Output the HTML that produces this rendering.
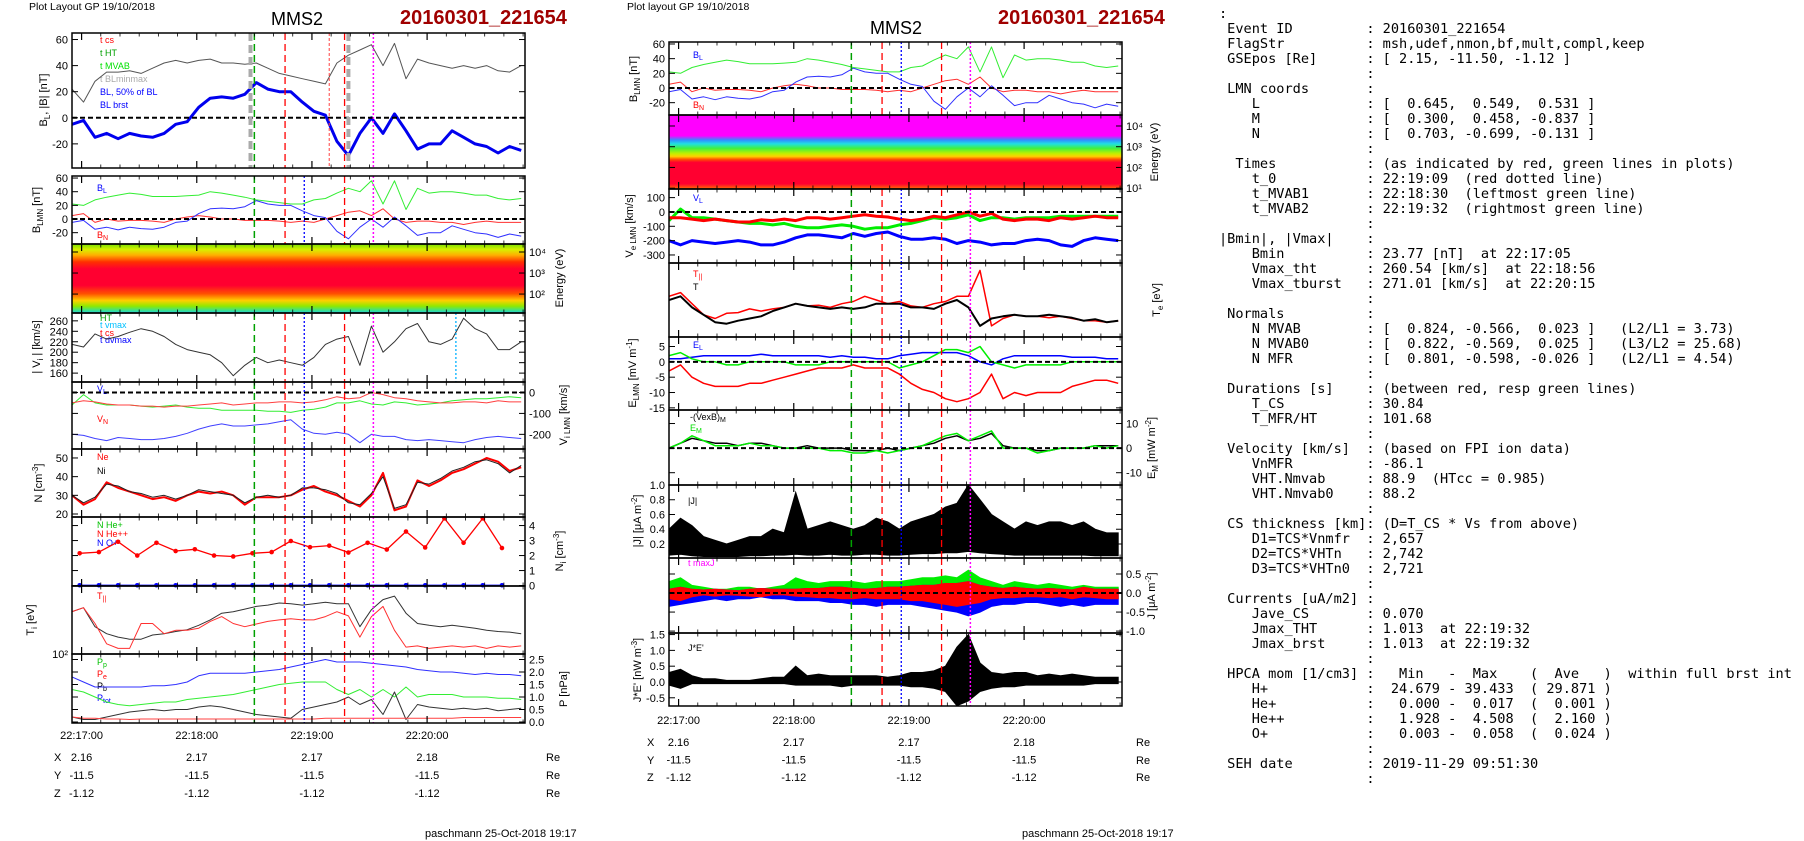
<!DOCTYPE html>
<html><head><meta charset="utf-8"><title>MMS2 20160301_221654</title>
<style>
html,body{margin:0;padding:0;background:#fff;}
body{width:1804px;height:841px;position:relative;overflow:hidden;font-family:"Liberation Sans",Arial,sans-serif;}
#chart{position:absolute;left:0;top:0;}
#info{position:absolute;left:1219px;top:7px;margin:0;font-family:"DejaVu Sans Mono","Liberation Mono",monospace;font-size:13.6px;line-height:15px;color:#000;white-space:pre;}
svg text{font-family:"Liberation Sans",Arial,sans-serif;}
</style></head>
<body>
<svg id="chart" width="1804" height="841" viewBox="0 0 1804 841">
<defs>
<linearGradient id="specL" x1="0" y1="0" x2="0" y2="1">
<stop offset="0" stop-color="#78e000"/><stop offset="0.08" stop-color="#d8f000"/><stop offset="0.16" stop-color="#ffb000"/><stop offset="0.26" stop-color="#ff3000"/><stop offset="0.36" stop-color="#ff0030"/><stop offset="0.6" stop-color="#ff0030"/><stop offset="0.72" stop-color="#ff5000"/><stop offset="0.82" stop-color="#ffd000"/><stop offset="0.9" stop-color="#90e800"/><stop offset="0.97" stop-color="#30e0a0"/><stop offset="1" stop-color="#30c0e0"/>
</linearGradient>
<linearGradient id="specM" x1="0" y1="0" x2="0" y2="1">
<stop offset="0" stop-color="#ff00ff"/><stop offset="0.28" stop-color="#ff00ff"/><stop offset="0.34" stop-color="#3090ff"/><stop offset="0.39" stop-color="#20e0e0"/><stop offset="0.45" stop-color="#40f040"/><stop offset="0.52" stop-color="#c0f000"/><stop offset="0.56" stop-color="#ffd000"/><stop offset="0.6" stop-color="#ff5000"/><stop offset="0.64" stop-color="#ff0030"/><stop offset="0.93" stop-color="#ff0030"/><stop offset="1" stop-color="#ff7000"/>
</linearGradient>
</defs>
<text x="29" y="10" font-size="10.5">Plot Layout GP 19/10/2018</text>
<text x="297" y="25" font-size="18" text-anchor="middle">MMS2</text>
<text x="400" y="24" font-size="20" font-weight="bold" fill="#a00000">20160301_221654</text>
<text x="627" y="10" font-size="10.5">Plot layout GP 19/10/2018</text>
<text x="896" y="34" font-size="18" text-anchor="middle">MMS2</text>
<text x="998" y="24" font-size="20" font-weight="bold" fill="#a00000">20160301_221654</text>
<rect x="72" y="244" width="453" height="69" fill="url(#specL)"/>
<rect x="669" y="115" width="453" height="74" fill="url(#specM)"/>
<g font-size="11">
<text transform="translate(47,100) rotate(-90)" text-anchor="middle">B<tspan font-size="8" dy="3">L</tspan><tspan dy="-3">, |B| [nT]</tspan></text>
<text transform="translate(40,210) rotate(-90)" text-anchor="middle">B<tspan font-size="8" dy="3">LMN</tspan><tspan dy="-3"> [nT]</tspan></text>
<text transform="translate(563,278) rotate(-90)" text-anchor="middle">Energy (eV)</text>
<text transform="translate(40,347) rotate(-90)" text-anchor="middle">| V<tspan font-size="8" dy="3">i</tspan><tspan dy="-3"> | [km/s]</tspan></text>
<text transform="translate(567,415) rotate(-90)" text-anchor="middle">V<tspan font-size="8" dy="3">i LMN</tspan><tspan dy="-3"> [km/s]</tspan></text>
<text transform="translate(42,483) rotate(-90)" text-anchor="middle">N [cm<tspan font-size="8" dy="-4">-3</tspan><tspan dy="4">]</tspan></text>
<text transform="translate(563,551) rotate(-90)" text-anchor="middle">N<tspan font-size="8" dy="3">i</tspan><tspan dy="-3"> [cm</tspan><tspan font-size="8" dy="-4">-3</tspan><tspan dy="4">]</tspan></text>
<text transform="translate(34,620) rotate(-90)" text-anchor="middle">T<tspan font-size="8" dy="3">i</tspan><tspan dy="-3"> [eV]</tspan></text>
<text transform="translate(567,689) rotate(-90)" text-anchor="middle">P [nPa]</text>
<text transform="translate(637,79) rotate(-90)" text-anchor="middle">B<tspan font-size="8" dy="3">LMN</tspan><tspan dy="-3"> [nT]</tspan></text>
<text transform="translate(1158,152) rotate(-90)" text-anchor="middle">Energy (eV)</text>
<text transform="translate(633,226) rotate(-90)" text-anchor="middle">V<tspan font-size="8" dy="3">e LMN</tspan><tspan dy="-3"> [km/s]</tspan></text>
<text transform="translate(1160,300) rotate(-90)" text-anchor="middle">T<tspan font-size="8" dy="3">e</tspan><tspan dy="-3"> [eV]</tspan></text>
<text transform="translate(636,373) rotate(-90)" text-anchor="middle">E<tspan font-size="8" dy="3">LMN</tspan><tspan dy="-3">  [mV m</tspan><tspan font-size="8" dy="-4">-1</tspan><tspan dy="4">]</tspan></text>
<text transform="translate(1155,448) rotate(-90)" text-anchor="middle">E<tspan font-size="8" dy="3">M</tspan><tspan dy="-3"> [mW m</tspan><tspan font-size="8" dy="-4">-2</tspan><tspan dy="4">]</tspan></text>
<text transform="translate(641,521) rotate(-90)" text-anchor="middle">|J| [μA m<tspan font-size="8" dy="-4">-2</tspan><tspan dy="4">]</tspan></text>
<text transform="translate(1155,596) rotate(-90)" text-anchor="middle">J [μA m<tspan font-size="8" dy="-4">-2</tspan><tspan dy="4">]</tspan></text>
<text transform="translate(641,670) rotate(-90)" text-anchor="middle">J*E' [nW m<tspan font-size="8" dy="-4">-3</tspan><tspan dy="4">]</tspan></text>
</g>
<g font-size="9">
<text x="100" y="43" fill="#ff0000">t  cs</text>
<text x="100" y="56" fill="#00a000">t  HT</text>
<text x="100" y="69" fill="#00e000">t  MVAB</text>
<text x="100" y="82" fill="#aaaaaa">t  BLminmax</text>
<text x="100" y="95" fill="#0000ff">BL, 50% of BL</text>
<text x="100" y="108" fill="#0000ff">BL  brst</text>
<text x="97" y="191" fill="#0000ff">B<tspan font-size="7" dy="2">L</tspan></text>
<text x="97" y="238" fill="#ff0000">B<tspan font-size="7" dy="2">N</tspan></text>
<text x="100" y="321" fill="#00a000">HT</text>
<text x="100" y="328" fill="#00c0ff">t  vmax</text>
<text x="100" y="336" fill="#ff0000">t  cs</text>
<text x="100" y="343" fill="#0000ff">t  dvmax</text>
<text x="97" y="392" fill="#0000ff">V<tspan font-size="7" dy="2">L</tspan></text>
<text x="97" y="422" fill="#ff0000">V<tspan font-size="7" dy="2">N</tspan></text>
<text x="97" y="460" fill="#ff0000">Ne</text>
<text x="97" y="474" fill="#000">Ni</text>
<text x="97" y="528" fill="#00c000">N  He+</text>
<text x="97" y="537" fill="#ff0000">N  He++</text>
<text x="97" y="546" fill="#0000ff">N  O+</text>
<text x="97" y="599" fill="#ff0000">T<tspan font-size="7" dy="2">||</tspan></text>
<text x="97" y="665" fill="#00c000">P<tspan font-size="7" dy="2">p</tspan></text>
<text x="97" y="677" fill="#ff0000">P<tspan font-size="7" dy="2">e</tspan></text>
<text x="97" y="689" fill="#000">P<tspan font-size="7" dy="2">b</tspan></text>
<text x="97" y="701" fill="#0000ff">P<tspan font-size="7" dy="2">tot</tspan></text>
<text x="693" y="58" fill="#0000ff">B<tspan font-size="7" dy="2">L</tspan></text>
<text x="693" y="108" fill="#ff0000">B<tspan font-size="7" dy="2">N</tspan></text>
<text x="693" y="201" fill="#0000ff">V<tspan font-size="7" dy="2">L</tspan></text>
<text x="693" y="277" fill="#ff0000">T<tspan font-size="7" dy="2">||</tspan></text>
<text x="693" y="290" fill="#000">T</text>
<text x="693" y="348" fill="#0000ff">E<tspan font-size="7" dy="2">L</tspan></text>
<text x="690" y="420" fill="#000">-(VexB)<tspan font-size="7" dy="2">M</tspan></text>
<text x="690" y="431" fill="#00e000">E<tspan font-size="7" dy="2">M</tspan></text>
<text x="688" y="504" fill="#000">|J|</text>
<text x="688" y="566" fill="#ff00ff">t  maxJ</text>
<text x="688" y="651" fill="#000">J*E'</text>
</g>
<g font-size="11">
<text x="54" y="761">X</text>
<text x="54" y="779">Y</text>
<text x="54" y="797">Z</text>
<text x="546" y="761">Re</text>
<text x="546" y="779">Re</text>
<text x="546" y="797">Re</text>
<text x="647" y="746">X</text>
<text x="647" y="764">Y</text>
<text x="647" y="781">Z</text>
<text x="1136" y="746">Re</text>
<text x="1136" y="764">Re</text>
<text x="1136" y="781">Re</text>
<text x="425" y="837">paschmann 25-Oct-2018 19:17</text>
<text x="1022" y="837">paschmann 25-Oct-2018 19:17</text>
</g>
</svg>
<pre id="info">:
 Event ID         : 20160301_221654
 FlagStr          : msh,udef,nmon,bf,mult,compl,keep
 GSEpos [Re]      : [ 2.15, -11.50, -1.12 ]
                  :
 LMN coords       :
    L             : [  0.645,  0.549,  0.531 ]
    M             : [  0.300,  0.458, -0.837 ]
    N             : [  0.703, -0.699, -0.131 ]
                  :
  Times           : (as indicated by red, green lines in plots)
    t_0           : 22:19:09  (red dotted line)
    t_MVAB1       : 22:18:30  (leftmost green line)
    t_MVAB2       : 22:19:32  (rightmost green line)
                  :
|Bmin|, |Vmax|    :
    Bmin          : 23.77 [nT]  at 22:17:05
    Vmax_tht      : 260.54 [km/s]  at 22:18:56
    Vmax_tburst   : 271.01 [km/s]  at 22:20:15
                  :
 Normals          :
    N MVAB        : [  0.824, -0.566,  0.023 ]   (L2/L1 = 3.73)
    N MVAB0       : [  0.822, -0.569,  0.025 ]   (L3/L2 = 25.68)
    N MFR         : [  0.801, -0.598, -0.026 ]   (L2/L1 = 4.54)
                  :
 Durations [s]    : (between red, resp green lines)
    T_CS          : 30.84
    T_MFR/HT      : 101.68
                  :
 Velocity [km/s]  : (based on FPI ion data)
    VnMFR         : -86.1
    VHT.Nmvab     : 88.9  (HTcc = 0.985)
    VHT.Nmvab0    : 88.2
                  :
 CS thickness [km]: (D=T_CS * Vs from above)
    D1=TCS*Vnmfr  : 2,657
    D2=TCS*VHTn   : 2,742
    D3=TCS*VHTn0  : 2,721
                  :
 Currents [uA/m2] :
    Jave_CS       : 0.070
    Jmax_THT      : 1.013  at 22:19:32
    Jmax_brst     : 1.013  at 22:19:32
                  :
 HPCA mom [1/cm3] :   Min   -  Max    (  Ave   )  within full brst int
    H+            :  24.679 - 39.433  ( 29.871 )
    He+           :   0.000 -  0.017  (  0.001 )
    He++          :   1.928 -  4.508  (  2.160 )
    O+            :   0.003 -  0.058  (  0.024 )
                  :
 SEH date         : 2019-11-29 09:51:30
                  :</pre>
<script>
// ---- data (time in seconds after 22:16:55) ----
const T = [0,6,12,18,24,30,36,42,48,54,60,66,72,78,84,90,96,102,108,114,120,126,132,138,144,150,156,162,168,174,180,186,192,198,204,210,216,222,228,234];
const timeTicks = [5,65,125,185];
const timeTickLabels = ["22:17:00","22:18:00","22:19:00","22:20:00"];
const posX = ["2.16","2.17","2.17","2.18"];
const posY = ["-11.5","-11.5","-11.5","-11.5"];
const posZ = ["-1.12","-1.12","-1.12","-1.12"];
const bTot = [22,12,28,35,35,36,34,38,42,44,42,44,45,42,42,41,42,38,34,32,30,28,26,42,48,52,56,40,57,30,45,42,40,38,40,38,40,36,35,40];
const bL = [-5,-2,-15,-12,-16,-12,-14,-15,-12,-5,-3,8,15,16,15,18,27,22,20,20,12,5,2,-18,-29,-12,0,-12,3,-10,-24,-20,-20,-10,-15,-20,-22,-27,-22,-25];
const bM = [22,20,28,32,35,38,36,33,33,33,34,35,40,38,35,32,28,26,24,22,22,28,30,38,45,40,56,22,56,14,45,38,40,40,38,35,35,30,28,30];
const bN = [5,8,-5,0,-3,-2,-2,-3,-5,0,3,5,3,0,0,-2,-2,-2,-3,-5,-3,-5,0,5,10,12,5,15,0,-5,-3,-3,-5,-5,-8,-5,-3,-5,-5,-5];
const viMag = [215,210,235,225,230,238,245,240,230,215,205,200,195,180,155,175,190,180,185,180,175,190,215,225,230,175,250,200,220,245,255,220,215,225,265,245,235,205,205,220];
const viL = [-200,-205,-220,-230,-215,-220,-225,-225,-220,-210,-195,-175,-160,-150,-160,-160,-155,-150,-140,-130,-175,-195,-200,-190,-200,-240,-200,-210,-210,-225,-230,-225,-230,-235,-240,-225,-215,-210,-215,-220];
const viM = [-60,-10,-50,-60,-60,-60,-65,-70,-65,-60,-70,-75,-75,-85,-85,-85,-85,-90,-90,-95,-85,-80,-70,-50,-50,-40,-55,-60,-45,-50,-60,-55,-50,-40,-35,-30,-30,-25,-20,-25];
const viN = [-50,-40,-45,-55,-60,-60,-65,-65,-70,-65,-65,-60,-55,-50,-60,-55,-50,-50,-45,-45,-50,-45,-35,-20,-30,-25,0,-10,-25,-30,-40,-45,-50,-50,-45,-45,-50,-40,-45,-45];
const nE = [30,25,28,37,34,32,30,28,29,27,30,32,31,32,30,25,29,29,29,30,33,35,32,30,27,24,30,42,22,24,38,35,38,42,44,47,50,48,43,45];
const nI = [30,26,29,36,35,32,31,29,30,28,30,33,32,31,30,26,29,30,29,30,34,34,33,31,26,25,31,40,23,25,37,36,39,43,45,48,49,47,42,46];
const tHe = [4,14,24,34,44,54,64,74,84,94,104,114,124,134,144,154,164,174,184,194,204,214,224];
const nHepp = [2.15,2.23,2.92,2.0,2.85,2.3,2.42,2.0,1.94,2.15,2.23,2.97,2.56,2.66,2.2,2.85,2.4,3.6,2.54,4.48,2.85,4.48,2.5];
const nOp = [0.02,0.02,0.02,0.02,0.02,0.02,0.02,0.02,0.02,0.02,0.02,0.02,0.02,0.02,0.02,0.02,0.02,0.02,0.02,0.02,0.02,0.02,0.02];
const tiPerp = [236,256,174,151,141,135,135,147,151,158,164,179,200,229,236,249,263,270,282,278,270,278,286,278,278,174,246,302,324,229,186,179,174,179,174,169,162,158,156,151];
const tiPar = [236,256,186,123,112,112,186,186,151,162,162,169,194,214,186,174,184,194,200,205,200,200,214,236,217,141,214,263,162,115,118,112,115,118,115,118,112,118,115,118];
const pTot = [1.8,1.6,1.4,1.4,1.4,1.4,1.4,1.45,1.45,1.5,1.6,1.85,1.95,1.95,1.95,1.95,2.0,2.05,2.1,2.2,2.3,2.4,2.5,2.4,2.4,2.4,2.35,2.3,2.25,2.2,2.1,2.05,2.0,2.0,1.95,1.9,1.95,1.9,1.9,1.85];
const pP = [1.3,1.2,1.0,0.8,0.7,0.65,0.7,0.75,0.8,0.8,0.9,0.95,1.0,1.05,1.1,1.2,1.3,1.4,1.5,1.55,1.6,1.6,1.6,1.3,1.1,1.3,1.0,1.3,1.0,1.4,1.0,1.1,1.1,1.1,1.0,1.0,1.0,0.95,0.95,0.9];
const pB = [0.2,0.1,0.1,0.2,0.3,0.4,0.45,0.5,0.45,0.5,0.5,0.6,0.65,0.6,0.5,0.4,0.3,0.25,0.2,0.15,0.5,0.6,0.7,0.8,1.0,0.7,0.9,0.3,1.2,0.1,0.7,0.6,0.55,0.5,0.55,0.5,0.55,0.45,0.5,0.55];
const pE = [0.2,0.15,0.15,0.12,0.12,0.1,0.12,0.12,0.12,0.12,0.12,0.12,0.12,0.12,0.12,0.12,0.12,0.12,0.12,0.12,0.12,0.12,0.15,0.15,0.15,0.15,0.15,0.15,0.15,0.15,0.15,0.15,0.15,0.15,0.18,0.18,0.18,0.18,0.18,0.18];
const veL = [-200,-230,-200,-210,-220,-210,-200,-210,-230,-230,-210,-180,-160,-160,-170,-180,-150,-170,-150,-140,-170,-190,-190,-180,-190,-220,-200,-210,-230,-220,-220,-200,-190,-200,-230,-240,-200,-180,-190,-200];
const veM = [-60,20,-40,-40,-50,-60,-70,-80,-80,-90,-80,-100,-110,-110,-100,-90,-100,-120,-110,-110,-90,-80,-60,-40,-50,-40,-20,-60,-40,-40,-50,-40,-40,-40,-30,-30,-30,-30,-30,-30];
const veN = [-40,-40,-50,-60,-50,-60,-70,-70,-55,-60,-50,-60,-40,-40,-50,-40,-30,-20,-30,-35,-50,-60,-50,-30,-40,-20,0,-30,-10,-50,-60,-50,-50,-60,-40,-50,-40,-30,-40,-40];
const teTot = [40,42,36,32,28,27.2,28.8,30,31.2,34,36,38,36.8,36,35.2,36,35.2,36,38,38,38,36,36,35.2,38,40,36,26,30,31.2,32,31.2,31.2,32,31.2,30.4,28.8,29.6,28,28.8];
const tePar = [42,44,38,32,30,32.8,33.2,35.2,34,35.2,36,38,36.8,37.2,36,38,39.2,42,40,38,39.2,36.8,36,38,39.2,42,42,56,26,30,32,31.2,31.2,30.4,31.2,30,28.8,28.8,28,28.8];
const eL = [1,1,1.5,2,2,2,2,2,2.5,2,2,2,2,2,1.5,2,1.5,1.5,1,1,2,2.5,3,3,3,3,2,0,-1,1,2,2,2,2,2,1.5,1.5,1.5,1,1];
const eM = [2,3,1,0,0,-1,-1,0,0,0,0,-1,-1,-1,0,0,0,0,0,0,-2,-1,0,2,4,4,3,5,0,-1,-2,-1,-1,-1,-1,0,0,0,0,0];
const eN = [-3,-1,-5,-7,-8,-8,-8,-7,-7,-6,-5,-4,-3,-2,-2,-2,-1,-2,-2,-2,-4,-7,-9,-10,-12,-13,-12,-10,-4,-12,-10,-11,-10,-10,-10,-8,-7,-6,-6,-7];
const vexbM = [0,2,4,3,2,2,1,2,2,1,0,0,1,0,0,0,-1,-1,-1,0,-1,0,1,2,4,5,3,4,6,1,0,0,-1,-1,0,0,0,1,1,1];
const emM = [0,2,5,3,1,1,1,2,1,1,0,0,0,0,-1,-1,-2,-2,-1,-2,-1,0,1,3,5,6,3,5,7,0,0,0,-2,-1,0,0,0,1,0,1];
const jMagHi = [0.4,0.55,0.45,0.3,0.25,0.2,0.25,0.3,0.3,0.4,0.35,0.9,0.4,0.45,0.5,0.45,0.4,0.45,0.55,0.5,0.4,0.5,0.55,0.6,0.7,0.75,1.0,0.8,0.6,0.5,0.4,0.5,0.45,0.5,0.5,0.45,0.5,0.4,0.35,0.35];
const jMagLo = [0.05,0.06,0.04,0.03,0.03,0.03,0.03,0.04,0.04,0.05,0.05,0.06,0.05,0.05,0.06,0.05,0.05,0.06,0.06,0.05,0.05,0.06,0.07,0.07,0.08,0.08,0.1,0.08,0.07,0.06,0.05,0.05,0.05,0.05,0.05,0.05,0.05,0.04,0.04,0.04];
const jGreenHi = [0.3,0.4,0.2,0.15,0.1,0.1,0.15,0.15,0.1,0.15,0.2,0.4,0.3,0.25,0.3,0.3,0.3,0.25,0.3,0.3,0.3,0.35,0.4,0.4,0.45,0.4,0.6,0.4,0.3,0.2,0.3,0.25,0.2,0.25,0.2,0.15,0.2,0.15,0.15,0.15];
const jBlueLo = [-0.35,-0.3,-0.25,-0.2,-0.15,-0.2,-0.15,-0.15,-0.1,-0.15,-0.15,-0.2,-0.2,-0.2,-0.25,-0.25,-0.3,-0.3,-0.35,-0.3,-0.3,-0.3,-0.35,-0.4,-0.45,-0.5,-0.6,-0.5,-0.35,-0.3,-0.3,-0.25,-0.25,-0.3,-0.35,-0.3,-0.35,-0.3,-0.3,-0.3];
const jRedHi = [0.1,0.15,0.1,0.08,0.1,0.08,0.06,0.1,0.12,0.1,0.1,0.1,0.12,0.12,0.15,0.15,0.12,0.1,0.12,0.15,0.15,0.18,0.2,0.2,0.25,0.25,0.3,0.2,0.15,0.12,0.15,0.12,0.1,0.12,0.1,0.08,0.15,0.1,0.1,0.1];
const jRedLo = [-0.15,-0.2,-0.1,-0.05,-0.08,-0.05,-0.06,-0.08,-0.1,-0.05,-0.05,-0.08,-0.1,-0.12,-0.12,-0.15,-0.15,-0.12,-0.15,-0.15,-0.15,-0.2,-0.2,-0.25,-0.3,-0.35,-0.3,-0.25,-0.15,-0.12,-0.12,-0.1,-0.1,-0.12,-0.1,-0.15,-0.1,-0.12,-0.15,-0.15];
const jeHi = [0.3,0.4,0.2,0.1,0.1,0.05,0.05,0.05,0.1,0.15,0.15,0.5,0.2,0.25,0.2,0.2,0.2,0.2,0.2,0.15,0.2,0.3,0.3,0.35,0.5,1.1,1.5,0.6,0.3,0.25,0.3,0.3,0.2,0.25,0.2,0.25,0.2,0.15,0.15,0.15];
const jeLo = [-0.1,-0.2,-0.05,-0.05,-0.05,-0.05,-0.05,-0.05,-0.05,-0.05,-0.05,-0.1,-0.1,-0.1,-0.1,-0.15,-0.1,-0.1,-0.1,-0.1,-0.1,-0.15,-0.15,-0.2,-0.3,-0.75,-0.6,-0.3,-0.2,-0.15,-0.15,-0.1,-0.1,-0.1,-0.1,-0.1,-0.1,-0.05,-0.05,-0.05];
// marker times (s after 22:16:55)
const tHT = 95, tCS1 = 111, tCS2 = 142, tDvmax = 121, tMaxJ = 157, tZero = 134, tBmm1 = 93, tBmm2 = 144, tVmax = 200;

const NS = 'http://www.w3.org/2000/svg';
const svg = document.getElementById('chart');
function mk(tag, attrs, parent) {
  const e = document.createElementNS(NS, tag);
  for (const k in attrs) e.setAttribute(k, attrs[k]);
  (parent || svg).appendChild(e);
  return e;
}
const COLS = {L: [72, 525], M: [669, 1122]};
const TDOM = [0, 236];
const P = {
  L1: {col:'L', y0:33, y1:168, d:[-38.5,65]},
  L2: {col:'L', y0:176, y1:244, d:[-36.6,63]},
  LS: {col:'L', y0:244, y1:313, d:[1.1,4.38]},
  L3: {col:'L', y0:313, y1:382, d:[143,275]},
  L4: {col:'L', y0:382, y1:449, d:[-270,50]},
  L5: {col:'L', y0:449, y1:517, d:[18.4,54.8]},
  L6: {col:'L', y0:517, y1:586, d:[-0.03,4.57]},
  L7: {col:'L', y0:586, y1:654, d:[2,2.6], log:true},
  L8: {col:'L', y0:654, y1:723, d:[-0.04,2.72]},
  M1: {col:'M', y0:42, y1:115, d:[-36.8,62.7]},
  MS: {col:'M', y0:115, y1:189, d:[0.96,4.53]},
  M2: {col:'M', y0:189, y1:263, d:[-356,160]},
  M3: {col:'M', y0:263, y1:337, d:[20,60]},
  M4: {col:'M', y0:337, y1:410, d:[-15.7,8.1]},
  M5: {col:'M', y0:410, y1:485, d:[-15,15.5]},
  M6: {col:'M', y0:485, y1:558, d:[0.01,1.0]},
  M7: {col:'M', y0:558, y1:633, d:[-1.05,0.92]},
  M8: {col:'M', y0:633, y1:706, d:[-0.76,1.55]}
};
function X(col, t) { const c = COLS[col]; return c[0] + (t - TDOM[0]) / (TDOM[1] - TDOM[0]) * (c[1] - c[0]); }
function Y(p, v) { const a = p.d[0], b = p.d[1]; if (p.log) v = Math.log10(v); return p.y1 - (v - a) / (b - a) * (p.y1 - p.y0); }

const defs = svg.querySelector('defs');
for (const k in P) {
  const p = P[k], c = COLS[p.col];
  const cp = mk('clipPath', {id: 'clip-' + k}, defs);
  mk('rect', {x: c[0], y: p.y0, width: c[1] - c[0], height: p.y1 - p.y0}, cp);
}
const layer = mk('g', {});



function series(pk, ts, vals, color, w, name, dash) {
  const p = P[pk];
  const d = vals.map((v, i) => (i ? 'L' : 'M') + X(p.col, ts[i]).toFixed(1) + ' ' + Y(p, v).toFixed(1)).join(' ');
  const e = mk('path', {d: d, fill: 'none', stroke: color, 'stroke-width': w, 'stroke-linejoin': 'round', 'clip-path': 'url(#clip-' + pk + ')'}, layer);
  if (dash) e.setAttribute('stroke-dasharray', dash);
  
  
  return e;
}
function band(pk, hi, lo, color, name) {
  const p = P[pk];
  let d = hi.map((v, i) => (i ? 'L' : 'M') + X(p.col, T[i]).toFixed(1) + ' ' + Y(p, v).toFixed(1)).join(' ');
  for (let i = lo.length - 1; i >= 0; i--) d += ' L' + X(p.col, T[i]).toFixed(1) + ' ' + Y(p, lo[i]).toFixed(1);
  const e = mk('path', {d: d + ' Z', fill: color, stroke: color, 'stroke-width': 1, 'clip-path': 'url(#clip-' + pk + ')'}, layer);
  
  
}
function dots(pk, ts, vals, color, name) {
  const p = P[pk];
  vals.forEach((v, i) => {
    const c = mk('circle', {cx: X(p.col, ts[i]), cy: Y(p, v), r: 2.3, fill: color}, layer);
    
    
  });
}
function zero(pk) {
  const p = P[pk], c = COLS[p.col];
  const e = mk('line', {x1: c[0], x2: c[1], y1: Y(p, 0), y2: Y(p, 0), stroke: '#000', 'stroke-width': 2, 'stroke-dasharray': '5,3'}, layer);
  
  
}
function vmark(pks, t, color, w, dash, name) {
  pks.forEach(pk => {
    const p = P[pk], x = X(p.col, t);
    const e = mk('line', {x1: x, x2: x, y1: p.y0, y2: p.y1, stroke: color, 'stroke-width': w, 'stroke-dasharray': dash}, layer);
    
    
  });
}
function yAxis(pk, ticks, labels, side) {
  const p = P[pk], c = COLS[p.col];
  ticks.forEach((v, i) => {
    const y = Y(p, v);
    mk('line', {x1: c[0], x2: c[0] + 6, y1: y, y2: y, stroke: '#000'}, layer);
    mk('line', {x1: c[1] - 6, x2: c[1], y1: y, y2: y, stroke: '#000'}, layer);
    const tx = side === 'left' ? mk('text', {x: c[0] - 4, y: y + 4, 'font-size': 11, 'text-anchor': 'end'}, layer)
                               : mk('text', {x: c[1] + 4, y: y + 4, 'font-size': 11}, layer);
    tx.textContent = labels[i];
    
    
  });
}
function frame(pk) {
  const p = P[pk], c = COLS[p.col];
  const r = mk('rect', {x: c[0], y: p.y0, width: c[1] - c[0], height: p.y1 - p.y0, fill: 'none', stroke: '#000', 'stroke-width': 1.5}, layer);
  
  
  for (let t = 5; t <= TDOM[1]; t += 10) {
    const x = X(p.col, t), major = ((t - 5) % 60 === 0), L = major ? 7 : 3.5;
    mk('line', {x1: x, x2: x, y1: p.y1, y2: p.y1 - L, stroke: '#000', 'stroke-width': major ? 1.2 : 0.8}, layer);
    mk('line', {x1: x, x2: x, y1: p.y0, y2: p.y0 + L, stroke: '#000', 'stroke-width': major ? 1.2 : 0.8}, layer);
  }
}

// ---- left column ----
series('L1', T, bTot, '#555', 1, 'series-b-total');
series('L1', T, bL, '#8080ff', 1, 'series-bl-thin');
series('L1', T, bL, '#0000ee', 3, 'series-bl-brst');
zero('L1');
series('L2', T, bM, '#33ee33', 1, 'series-bm-left');
series('L2', T, bN, '#ff3030', 1, 'series-bn-left');
series('L2', T, bL, '#3030ff', 1, 'series-bl-left');
zero('L2');
series('L3', T, viMag, '#333', 1, 'series-vi-magnitude');
series('L4', T, viL, '#4040ff', 1, 'series-vi-l');
series('L4', T, viM, '#33ee33', 1, 'series-vi-m');
series('L4', T, viN, '#ff4040', 1, 'series-vi-n');
zero('L4');
series('L5', T, nE, '#ff0000', 2, 'series-ne');
series('L5', T, nI, '#222', 1, 'series-ni');
series('L6', tHe, nHepp, '#ff0000', 1.3, 'series-n-hepp');
dots('L6', tHe, nHepp, '#ff0000', 'series-n-hepp');
series('L6', tHe, nOp, '#0000ff', 1.3, 'series-n-oplus');
dots('L6', tHe, nOp, '#0000ff', 'series-n-oplus');
series('L7', T, tiPerp, '#333', 1, 'series-ti-perp');
series('L7', T, tiPar, '#ff3030', 1, 'series-ti-par');
series('L8', T, pTot, '#3030ff', 1, 'series-p-total');
series('L8', T, pP, '#33ee33', 1, 'series-p-ion');
series('L8', T, pB, '#333', 1, 'series-p-magnetic');
series('L8', T, pE, '#ff4040', 1, 'series-p-electron');

// ---- middle column ----
series('M1', T, bM, '#33ee33', 1, 'series-bm-middle');
series('M1', T, bN, '#ff3030', 1, 'series-bn-middle');
series('M1', T, bL, '#3030ff', 1, 'series-bl-middle');
zero('M1');
series('M2', T, veL, '#0000ff', 3, 'series-ve-l');
series('M2', T, veM, '#00ee00', 3, 'series-ve-m');
series('M2', T, veN, '#ff0000', 3, 'series-ve-n');
zero('M2');
series('M3', T, tePar, '#ff0000', 1.5, 'series-te-par');
series('M3', T, teTot, '#000', 2, 'series-te');
series('M4', T, eL, '#0000ff', 1.5, 'series-e-l');
series('M4', T, eM, '#00ee00', 1.5, 'series-e-m');
series('M4', T, eN, '#ff0000', 1.5, 'series-e-n');
zero('M4');
series('M5', T, vexbM, '#000', 1.5, 'series-vexb-m');
series('M5', T, emM, '#00ee00', 1.5, 'series-em');
zero('M5');
band('M6', jMagHi, jMagLo, '#000', 'series-j-magnitude');
band('M7', jGreenHi, jRedLo, '#00ee00', 'series-j-m');
band('M7', jRedHi, jBlueLo, '#0000ff', 'series-j-l');
band('M7', jRedHi, jRedLo, '#ff0000', 'series-j-n');
zero('M7');
band('M8', jeHi, jeLo, '#000', 'series-j-dot-e');

// ---- markers ----
const leftLower = ['L3','L4','L5','L6','L7','L8'];
vmark(['L1'], tBmm1, '#aaa', 4, '8,4', 'marker-bl-minmax');
vmark(['L1'], tBmm2, '#aaa', 4, '8,4', 'marker-bl-minmax');
vmark(['L1'], tZero, '#ff4040', 1, '3,2', 'marker-t0');
vmark(['L1','L2'].concat(leftLower), tHT, '#00a000', 1.5, '7,4', 'marker-ht');
vmark(['L1','L2'].concat(leftLower), tCS1, '#ff0000', 1.3, '7,4', 'marker-cs-start');
vmark(['L1','L2'].concat(leftLower), tCS2, '#ff0000', 1.3, '7,4', 'marker-cs-end');
vmark(['L2'].concat(leftLower), tDvmax, '#0000ff', 1.3, '2,2', 'marker-dvmax');
vmark(['L1','L2'].concat(leftLower), tMaxJ, '#ff00ff', 1.5, '2,2', 'marker-max-j');
vmark(['L3'], tVmax, '#00b0ff', 1.3, '2,2', 'marker-vmax');
const midP = ['M1','M2','M3','M4','M5','M6','M7','M8'];
vmark(midP, tHT, '#00a000', 1.5, '7,4', 'marker-ht-middle');
vmark(midP, tCS1, '#ff0000', 1.3, '7,4', 'marker-cs-start-middle');
vmark(midP, tCS2, '#ff0000', 1.3, '7,4', 'marker-cs-end-middle');
vmark(midP, tDvmax, '#0000ff', 1.3, '2,2', 'marker-dvmax-middle');
vmark(midP, tMaxJ, '#ff00ff', 1.5, '2,2', 'marker-max-j-middle');

// ---- frames & axes ----
for (const k in P) frame(k);
yAxis('L1', [-20,0,20,40,60], ['-20','0','20','40','60'], 'left');
yAxis('L2', [-20,0,20,40,60], ['-20','0','20','40','60'], 'left');
yAxis('LS', [2,3,4], ['10²','10³','10⁴'], 'right');
yAxis('L3', [160,180,200,220,240,260], ['160','180','200','220','240','260'], 'left');
yAxis('L4', [-200,-100,0], ['-200','-100','0'], 'right');
yAxis('L5', [20,30,40,50], ['20','30','40','50'], 'left');
yAxis('L6', [0,1,2,3,4], ['0','1','2','3','4'], 'right');
yAxis('L7', [100], ['10²'], 'left');
yAxis('L8', [0,0.5,1,1.5,2,2.5], ['0.0','0.5','1.0','1.5','2.0','2.5'], 'right');
yAxis('M1', [-20,0,20,40,60], ['-20','0','20','40','60'], 'left');
yAxis('MS', [1,2,3,4], ['10¹','10²','10³','10⁴'], 'right');
yAxis('M2', [-300,-200,-100,0,100], ['-300','-200','-100','0','100'], 'left');
yAxis('M4', [-15,-10,-5,0,5], ['-15','-10','-5','0','5'], 'left');
yAxis('M5', [-10,0,10], ['-10','0','10'], 'right');
yAxis('M6', [0.2,0.4,0.6,0.8,1.0], ['0.2','0.4','0.6','0.8','1.0'], 'left');
yAxis('M7', [-1,-0.5,0,0.5], ['-1.0','-0.5','0.0','0.5'], 'right');
yAxis('M8', [-0.5,0,0.5,1,1.5], ['-0.5','0.0','0.5','1.0','1.5'], 'left');

// ---- time labels & positions ----
[['L', 739, 761], ['M', 724, 746]].forEach(([col, yT, yX]) => {
  timeTicks.forEach((t, i) => {
    const x = X(col, t);
    const lab = mk('text', {x: x, y: yT, 'font-size': 11, 'text-anchor': 'middle'}, layer);
    lab.textContent = timeTickLabels[i];
    
    
    [posX, posY, posZ].forEach((arr, j) => {
      const tx = mk('text', {x: x, y: yX + j * 18 - (col === 'M' ? j * 0.5 : 0), 'font-size': 11, 'text-anchor': 'middle'}, layer);
      tx.textContent = arr[i];
      
      
    });
  });
});
</script>
</body></html>
